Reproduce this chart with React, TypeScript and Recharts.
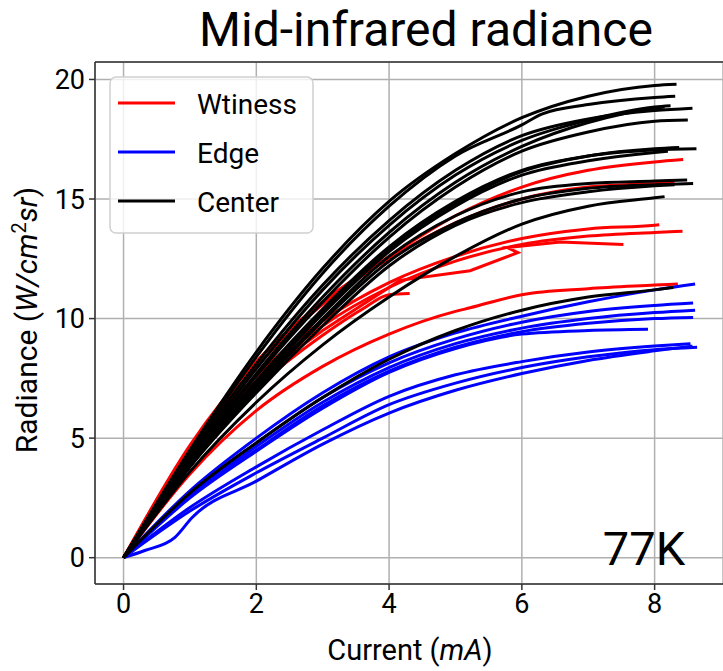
import React from 'react'
import { LineChart, Line, XAxis, YAxis, CartesianGrid, ReferenceLine } from 'recharts'

// axis setup
const X_MIN = -0.43
const X_MAX = 9.03
const Y_MIN = -1.1
const Y_MAX = 20.73
const xTicks = [0, 2, 4, 6, 8]
const yTicks = [0, 5, 10, 15, 20]

// Wtiness (red)
const wt1X = [0, 1, 2, 3, 4, 5, 6, 7, 8, 8.43]
const wt1Y = [0, 4.7, 8.2, 10.7, 12.6, 14.3, 15.5, 16.2, 16.55, 16.65]
const wt2X = [0, 1, 2, 3, 4, 5, 6, 7, 8, 8.3]
const wt2Y = [0, 4.6, 8.0, 10.6, 12.5, 14.0, 15.0, 15.5, 15.65, 15.7]
const wt3X = [0, 1, 2, 3, 4, 5, 6, 7, 8, 8.07]
const wt3Y = [0, 4.3, 7.6, 9.9, 11.5, 12.6, 13.35, 13.75, 13.9, 13.92]
const wt4X = [0, 1, 2, 3, 4, 5, 6, 7, 8, 8.42]
const wt4Y = [0, 4.2, 7.4, 9.7, 11.3, 12.4, 13.1, 13.45, 13.6, 13.65]
const wt5X = [0, 0.5, 1, 1.5, 2, 2.5, 3, 3.5, 4, 4.16, 5.22, 5.94, 5.78, 6.58, 7.53]
const wt5Y = [0, 2.2, 4.2, 5.9, 7.3, 8.5, 9.5, 10.4, 11.3, 11.6, 12.0, 12.76, 12.97, 13.2, 13.1]
const wt6X = [0, 1, 2, 3, 3.6, 4, 4.31]
const wt6Y = [0, 4.1, 7.1, 9.3, 10.4, 11.0, 11.05]
const wt7X = [0, 1, 2, 3, 4, 5, 5.22, 6, 7, 8, 8.35]
const wt7Y = [0, 3.5, 6.15, 8.0, 9.35, 10.3, 10.45, 11.0, 11.25, 11.4, 11.45]

// Edge (blue)
const ed1X = [0, 1, 2, 3, 4, 5, 6, 7, 8, 8.61]
const ed1Y = [0, 2.8, 5.0, 6.9, 8.4, 9.4, 10.1, 10.7, 11.2, 11.45]
const ed2X = [0, 1, 2, 3, 4, 5, 6, 7, 8, 8.58]
const ed2Y = [0, 2.7, 4.8, 6.7, 8.15, 9.15, 9.85, 10.3, 10.55, 10.65]
const ed3X = [0, 1, 2, 3, 4, 5, 6, 7, 8, 8.61]
const ed3Y = [0, 2.6, 4.65, 6.5, 7.95, 8.95, 9.6, 10.0, 10.25, 10.35]
const ed4X = [0, 1, 2, 3, 4, 5, 6, 7, 8, 8.58]
const ed4Y = [0, 2.55, 4.5, 6.35, 7.8, 8.8, 9.45, 9.8, 10.0, 10.05]
const ed5X = [0, 1, 2, 3, 4, 5, 6, 7, 7.9]
const ed5Y = [0, 2.5, 4.45, 6.25, 7.75, 8.75, 9.35, 9.5, 9.55]
const ed6X = [0, 1, 2, 3, 4, 5, 6, 7, 8, 8.54]
const ed6Y = [0, 2.1, 3.8, 5.35, 6.75, 7.65, 8.2, 8.6, 8.85, 8.95]
const ed7X = [0, 1, 2, 3, 4, 5, 6, 7, 8, 8.64]
const ed7Y = [0, 1.95, 3.55, 5.0, 6.4, 7.3, 7.95, 8.4, 8.7, 8.8]
const ed8X = [0, 0.32, 0.77, 1.03, 2, 3, 4, 5, 6, 7, 8, 8.57]
const ed8Y = [0, 0.3, 0.84, 1.67, 3.2, 4.75, 6.05, 7.0, 7.7, 8.25, 8.65, 8.85]

// Center (black)
const ce1X = [0, 1, 2, 3, 4, 5, 6, 7, 8, 8.33]
const ce1Y = [0, 4.5, 8.6, 12.1, 14.9, 16.9, 18.4, 19.3, 19.75, 19.8]
const ce2X = [0, 1, 2, 3, 4, 5, 6, 6.3, 7, 8, 8.31]
const ce2Y = [0, 4.4, 8.4, 11.9, 14.7, 16.8, 18.1, 18.55, 18.95, 19.25, 19.3]
const ce3X = [0, 1, 2, 3, 4, 5, 6, 7, 8, 8.57]
const ce3Y = [0, 4.3, 8.1, 11.4, 14.1, 16.2, 17.65, 18.35, 18.7, 18.8]
const ce4X = [0, 1, 2, 3, 4, 5, 6, 7, 8, 8.24]
const ce4Y = [0, 4.2, 7.9, 11.2, 13.9, 16.0, 17.45, 18.3, 18.85, 18.9]
const ce5X = [0, 1, 2, 3, 4, 5, 6, 7, 8, 8.15]
const ce5Y = [0, 4.1, 7.7, 10.9, 13.6, 15.7, 17.2, 18.2, 18.8, 18.85]
const ce6X = [0, 1, 2, 3, 4, 5, 6, 7, 8, 8.5]
const ce6Y = [0, 4.1, 7.6, 10.7, 13.4, 15.5, 17.0, 17.8, 18.25, 18.3]
const ce7X = [0, 1, 2, 3, 4, 5, 6, 7, 8, 8.63]
const ce7Y = [0, 4.0, 7.4, 10.4, 13.0, 14.9, 16.2, 16.8, 17.05, 17.1]
const ce8X = [0, 1, 2, 3, 4, 5, 6, 7, 8, 8.37]
const ce8Y = [0, 4.0, 7.3, 10.3, 12.9, 14.8, 16.15, 16.8, 17.1, 17.15]
const ce9X = [0, 1, 2, 3, 4, 5, 6, 7, 8, 8.2]
const ce9Y = [0, 3.9, 7.2, 10.2, 12.8, 14.7, 16.0, 16.6, 16.95, 17.0]
const ce10X = [0, 1, 2, 3, 4, 5, 6, 7, 8, 8.49]
const ce10Y = [0, 3.9, 7.1, 10.0, 12.6, 14.3, 15.3, 15.65, 15.75, 15.8]
const ce11X = [0, 1, 2, 3, 4, 5, 6, 7, 8, 8.58]
const ce11Y = [0, 3.8, 7.0, 9.9, 12.4, 14.0, 15.0, 15.45, 15.6, 15.65]
const ce12X = [0, 1, 2, 3, 4, 5, 6, 7, 8, 8.3]
const ce12Y = [0, 3.8, 6.9, 9.7, 12.2, 13.9, 14.85, 15.3, 15.55, 15.6]
const ce13X = [0, 1, 2, 3, 4, 5, 6, 7, 8, 8.15]
const ce13Y = [0, 3.6, 6.5, 8.9, 10.9, 12.6, 13.95, 14.7, 15.05, 15.1]
const ce14X = [0, 1, 2, 3, 4, 5, 6, 7, 8, 8.28]
const ce14Y = [0, 2.7, 4.8, 6.7, 8.3, 9.5, 10.35, 10.9, 11.2, 11.3]

const RED = '#ff0000'
const BLUE = '#0000ff'
const BLACK = '#000000'

const toPts = (xs: number[], ys: number[]) => xs.map((x, i) => ({ x, y: ys[i] }))

const series = [
  { id: 'wt1', pts: toPts(wt1X, wt1Y), color: RED, curve: 'monotone' },
  { id: 'wt2', pts: toPts(wt2X, wt2Y), color: RED, curve: 'monotone' },
  { id: 'wt3', pts: toPts(wt3X, wt3Y), color: RED, curve: 'monotone' },
  { id: 'wt4', pts: toPts(wt4X, wt4Y), color: RED, curve: 'monotone' },
  { id: 'wt5', pts: toPts(wt5X, wt5Y), color: RED, curve: 'linear' },
  { id: 'wt6', pts: toPts(wt6X, wt6Y), color: RED, curve: 'monotone' },
  { id: 'wt7', pts: toPts(wt7X, wt7Y), color: RED, curve: 'monotone' },
  { id: 'ed1', pts: toPts(ed1X, ed1Y), color: BLUE, curve: 'monotone' },
  { id: 'ed2', pts: toPts(ed2X, ed2Y), color: BLUE, curve: 'monotone' },
  { id: 'ed3', pts: toPts(ed3X, ed3Y), color: BLUE, curve: 'monotone' },
  { id: 'ed4', pts: toPts(ed4X, ed4Y), color: BLUE, curve: 'monotone' },
  { id: 'ed5', pts: toPts(ed5X, ed5Y), color: BLUE, curve: 'monotone' },
  { id: 'ed6', pts: toPts(ed6X, ed6Y), color: BLUE, curve: 'monotone' },
  { id: 'ed7', pts: toPts(ed7X, ed7Y), color: BLUE, curve: 'monotone' },
  { id: 'ed8', pts: toPts(ed8X, ed8Y), color: BLUE, curve: 'monotone' },
  { id: 'ce1', pts: toPts(ce1X, ce1Y), color: BLACK, curve: 'monotone' },
  { id: 'ce2', pts: toPts(ce2X, ce2Y), color: BLACK, curve: 'monotone' },
  { id: 'ce3', pts: toPts(ce3X, ce3Y), color: BLACK, curve: 'monotone' },
  { id: 'ce4', pts: toPts(ce4X, ce4Y), color: BLACK, curve: 'monotone' },
  { id: 'ce5', pts: toPts(ce5X, ce5Y), color: BLACK, curve: 'monotone' },
  { id: 'ce6', pts: toPts(ce6X, ce6Y), color: BLACK, curve: 'monotone' },
  { id: 'ce7', pts: toPts(ce7X, ce7Y), color: BLACK, curve: 'monotone' },
  { id: 'ce8', pts: toPts(ce8X, ce8Y), color: BLACK, curve: 'monotone' },
  { id: 'ce9', pts: toPts(ce9X, ce9Y), color: BLACK, curve: 'monotone' },
  { id: 'ce10', pts: toPts(ce10X, ce10Y), color: BLACK, curve: 'monotone' },
  { id: 'ce11', pts: toPts(ce11X, ce11Y), color: BLACK, curve: 'monotone' },
  { id: 'ce12', pts: toPts(ce12X, ce12Y), color: BLACK, curve: 'monotone' },
  { id: 'ce13', pts: toPts(ce13X, ce13Y), color: BLACK, curve: 'monotone' },
  { id: 'ce14', pts: toPts(ce14X, ce14Y), color: BLACK, curve: 'monotone' },
]

const legendItems = [
  { label: 'Wtiness', color: RED },
  { label: 'Edge', color: BLUE },
  { label: 'Center', color: BLACK },
]

const FONT = 'Roboto, "DejaVu Sans", sans-serif'
const tickStyle = { fontSize: 27, fill: '#000', fontFamily: FONT }

export default function App() {
  return (
    <div style={{ position: 'absolute', left: 0, top: 0, width: 723, height: 671, overflow: 'hidden', background: '#fff' }}>
      <LineChart width={733} height={671} margin={{ top: 62, right: 10, bottom: 0, left: 0 }}>
        <CartesianGrid stroke="#b0b0b0" strokeWidth={1.5} />
        <XAxis
          type="number"
          dataKey="x"
          domain={[X_MIN, X_MAX]}
          ticks={xTicks}
          allowDataOverflow
          height={87}
          tick={tickStyle}
          tickSize={6}
          tickMargin={4}
          stroke="#333"
          strokeWidth={1.5}
        />
        <YAxis
          type="number"
          dataKey="y"
          domain={[Y_MIN, Y_MAX]}
          ticks={yTicks}
          allowDataOverflow
          width={95}
          tick={tickStyle}
          tickSize={6}
          tickMargin={4}
          stroke="#333"
          strokeWidth={1.5}
        />
        <ReferenceLine y={Y_MAX} stroke="#333" strokeWidth={1.5} />
        {series.map((s) => (
          <Line
            key={s.id}
            data={s.pts}
            dataKey="y"
            type={s.curve as any}
            stroke={s.color}
            strokeWidth={3}
            dot={false}
            activeDot={false}
            legendType="none"
            isAnimationActive={false}
          />
        ))}
      </LineChart>
      <svg width={723} height={671} style={{ position: 'absolute', left: 0, top: 0, pointerEvents: 'none' }} fontFamily={FONT}>
        <text x={426} y={46} textAnchor="middle" fontSize={48} fill="#000">Mid-infrared radiance</text>
        <text x={410} y={660} textAnchor="middle" fontSize={29} fill="#000">
          Current (<tspan fontStyle="italic">mA</tspan>)
        </text>
        <text transform="translate(37, 320) rotate(-90)" textAnchor="middle" fontSize={30} fill="#000">
          Radiance (<tspan fontStyle="italic">W/cm</tspan>
          <tspan fontSize={20} dy={-11}>2</tspan>
          <tspan fontStyle="italic" dy={11}>sr</tspan>)
        </text>
        <text x={644} y={565} textAnchor="middle" fontSize={47} fill="#000">77K</text>
        <rect x={110} y={77} width={203} height={156} rx={6} fill="#fff" fillOpacity={0.8} stroke="#d0d0d0" strokeWidth={1.5} />
        {legendItems.map((it, i) => (
          <g key={it.label}>
            <line x1={118} x2={175} y1={103 + i * 49} y2={103 + i * 49} stroke={it.color} strokeWidth={3} />
            <text x={197} y={114 + i * 49} fontSize={28} fill="#000">{it.label}</text>
          </g>
        ))}
      </svg>
    </div>
  )
}
